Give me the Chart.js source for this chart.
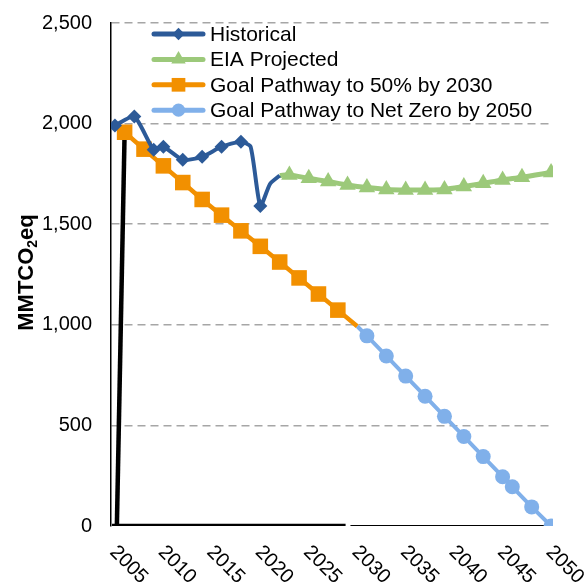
<!DOCTYPE html>
<html>
<head>
<meta charset="utf-8">
<script src="https://cdn.jsdelivr.net/npm/chart.js@4.4.1/dist/chart.umd.min.js"></script>
<style>
  body { margin: 0; background: #fff; }
  canvas { display: block; }
</style>
</head>
<body>
<canvas id="chart" width="587" height="584"></canvas>
<script>
const FONT = "'Liberation Sans', Arial, sans-serif";

// Historical emissions (MMTCO2eq)
const histYears = [2005, 2007, 2009, 2010, 2012, 2014, 2016, 2018, 2019, 2020, 2021, 2022];
const histValues = [1990, 2035, 1870, 1885, 1820, 1835, 1885, 1910, 1885, 1590, 1700, 1742];
const histMarkers = [1, 1, 1, 1, 1, 1, 1, 1, 0, 1, 0, 0];

// EIA projection
const eiaYears = [2022, 2023, 2025, 2027, 2029, 2031, 2033, 2035, 2037, 2039, 2041, 2043, 2045, 2047, 2050];
const eiaValues = [1742, 1745, 1728, 1712, 1695, 1682, 1673, 1670, 1670, 1673, 1687, 1703, 1720, 1733, 1757];
const eiaMarkers = [0, 1, 1, 1, 1, 1, 1, 1, 1, 1, 1, 1, 1, 1, 1];

// Goal pathway to 50% by 2030
const goal50Years = [2006, 2008, 2010, 2012, 2014, 2016, 2018, 2020, 2022, 2024, 2026, 2028, 2030];
const goal50Values = [1957, 1873, 1790, 1707, 1623, 1545, 1467, 1390, 1312, 1233, 1153, 1073, 993];
const goal50Markers = [1, 1, 1, 1, 1, 1, 1, 1, 1, 1, 1, 1, 0];

// Goal pathway to net zero by 2050
const netZeroYears = [2030, 2031, 2033, 2035, 2037, 2039, 2041, 2043, 2045, 2046, 2048, 2050];
const netZeroValues = [993, 945, 845, 745, 645, 545, 445, 345, 245, 195, 95, 0];
const netZeroMarkers = [0, 1, 1, 1, 1, 1, 1, 1, 1, 1, 1, 1];

// black strokes at the bottom of the plot
const spikeYears = [2006, 2005.2];
const spikeValues = [1957, 0];
const baseYears = [2004.7, 2028.8];
const baseValues = [0, 0];
const baseThinYears = [2029.3, 2050];
const baseThinValues = [0, 0];

const xTickLabels = [2005, 2010, 2015, 2020, 2025, 2030, 2035, 2040, 2045, 2050];
const yTickStep = 500;
const yMax = 2500;

function toPoints(xs, ys) {
    return xs.map((x, i) => ({ x: x, y: ys[i] }));
}

function lineSet(label, xs, ys, markers, color, style, radius, width, order, tension) {
    return {
        label: label,
        data: toPoints(xs, ys),
        borderColor: color,
        backgroundColor: color,
        borderWidth: width,
        pointStyle: style,
        pointRadius: markers.map(m => m ? radius : 0),
        pointBackgroundColor: color,
        pointBorderColor: color,
        pointBorderWidth: 0,
        tension: tension,
        order: order,
        fill: false
    };
}

function blackSet(xs, ys, width) {
    return {
        label: '',
        data: toPoints(xs, ys),
        borderColor: '#000',
        borderWidth: width,
        borderCapStyle: 'butt',
        pointRadius: 0,
        order: 10,
        fill: false
    };
}

// draws one marker shape for the legend
function drawMarker(ctx, style, x, y, r) {
    ctx.beginPath();
    if (style === 'rectRot') {
        ctx.moveTo(x, y - r); ctx.lineTo(x + r, y); ctx.lineTo(x, y + r); ctx.lineTo(x - r, y);
    } else if (style === 'rect') {
        const s = r * Math.SQRT1_2;
        ctx.rect(x - s, y - s, 2 * s, 2 * s);
    } else if (style === 'triangle') {
        ctx.moveTo(x, y - r);
        ctx.lineTo(x + r * Math.sin(2 * Math.PI / 3), y + r * 0.5);
        ctx.lineTo(x - r * Math.sin(2 * Math.PI / 3), y + r * 0.5);
    } else {
        ctx.arc(x, y, r, 0, Math.PI * 2);
    }
    ctx.closePath();
    ctx.fill();
}

// legend drawn inside the plot, top left
const insideLegend = {
    id: 'insideLegend',
    afterDraw(chart) {
        const ctx = chart.ctx;
        const items = chart.data.datasets.filter(d => d.label);
        ctx.save();
        ctx.font = '21px ' + FONT;
        ctx.textBaseline = 'middle';
        ctx.textAlign = 'left';
        items.forEach((d, i) => {
            const y = 34 + i * 25.4;
            ctx.strokeStyle = d.borderColor;
            ctx.lineWidth = 5;
            ctx.lineCap = 'round';
            ctx.beginPath();
            ctx.moveTo(154, y);
            ctx.lineTo(203, y);
            ctx.stroke();
            ctx.fillStyle = d.borderColor;
            const r = Math.max(...d.pointRadius) * 0.88;
            drawMarker(ctx, d.pointStyle, 178.5, y, r);
            ctx.fillStyle = '#000';
            ctx.fillText(d.label, 210, y + 1);
        });
        ctx.restore();
    }
};

// year labels rotated 45 degrees clockwise under the plot
const slantedYears = {
    id: 'slantedYears',
    afterDraw(chart) {
        const ctx = chart.ctx;
        const xs = chart.scales.x;
        ctx.save();
        ctx.font = '20px ' + FONT;
        ctx.fillStyle = '#000';
        ctx.textAlign = 'left';
        ctx.textBaseline = 'middle';
        xTickLabels.forEach(v => {
            ctx.save();
            ctx.translate(xs.getPixelForValue(v) - 2, chart.chartArea.bottom + 23);
            ctx.rotate(Math.PI / 4);
            ctx.fillText(String(v), 0, 0);
            ctx.restore();
        });
        ctx.restore();
    }
};

// y title with subscript 2
const yTitle = {
    id: 'yTitle',
    afterDraw(chart) {
        const ctx = chart.ctx;
        const a = chart.chartArea;
        const big = 'bold 22px ' + FONT;
        const small = 'bold 14px ' + FONT;
        ctx.save();
        ctx.fillStyle = '#000';
        ctx.textBaseline = 'alphabetic';
        ctx.textAlign = 'left';
        ctx.font = big;
        const w1 = ctx.measureText('MMTCO').width;
        const w3 = ctx.measureText('eq').width;
        ctx.font = small;
        const w2 = ctx.measureText('2').width;
        const total = w1 + w2 + w3;
        ctx.translate(33, (a.top + a.bottom) / 2 - 2);
        ctx.rotate(-Math.PI / 2);
        let x = -total / 2;
        ctx.font = big;
        ctx.fillText('MMTCO', x, 0);
        x += w1;
        ctx.font = small;
        ctx.fillText('2', x, 4);
        x += w2;
        ctx.font = big;
        ctx.fillText('eq', x, 0);
        ctx.restore();
    }
};

const datasets = [
    lineSet('Historical', histYears, histValues, histMarkers, '#2c5a98', 'rectRot', 7, 4, 1, 0.2),
    lineSet('EIA Projected', eiaYears, eiaValues, eiaMarkers, '#9cc97a', 'triangle', 9.5, 5, 2, 0.3),
    lineSet('Goal Pathway to 50% by 2030', goal50Years, goal50Values, goal50Markers, '#f29000', 'rect', 11, 4.5, 3, 0),
    lineSet('Goal Pathway to Net Zero by 2050', netZeroYears, netZeroValues, netZeroMarkers, '#80b0ea', 'circle', 7.5, 4, 4, 0),
    blackSet(spikeYears, spikeValues, 4.5),
    blackSet(baseYears, baseValues, 4.5),
    blackSet(baseThinYears, baseThinValues, 2)
];

new Chart(document.getElementById('chart'), {
    type: 'line',
    data: { datasets: datasets },
    options: {
        responsive: false,
        animation: false,
        layout: { padding: { left: 23, right: 34, top: 23, bottom: 58 } },
        plugins: {
            legend: { display: false },
            tooltip: { enabled: false }
        },
        scales: {
            x: {
                type: 'linear',
                display: false,
                min: 2004.6,
                max: 2050.2
            },
            y: {
                min: 0,
                max: yMax,
                // the label padding should not push the plot area down
                afterFit: scale => { scale.paddingTop = 0; scale.paddingBottom = 0; },
                ticks: {
                    stepSize: yTickStep,
                    padding: 19,
                    color: '#000',
                    font: { family: FONT, size: 20 },
                    callback: v => v.toLocaleString('en-US')
                },
                grid: {
                    drawTicks: false,
                    lineWidth: 1.5,
                    color: c => c.tick && c.tick.value === 0 ? 'rgba(0,0,0,0)' : '#a6a6a6'
                },
                border: { display: true, color: '#000', width: 1.5, dash: [8, 5] }
            }
        }
    },
    plugins: [insideLegend, slantedYears, yTitle]
});
</script>
</body>
</html>
